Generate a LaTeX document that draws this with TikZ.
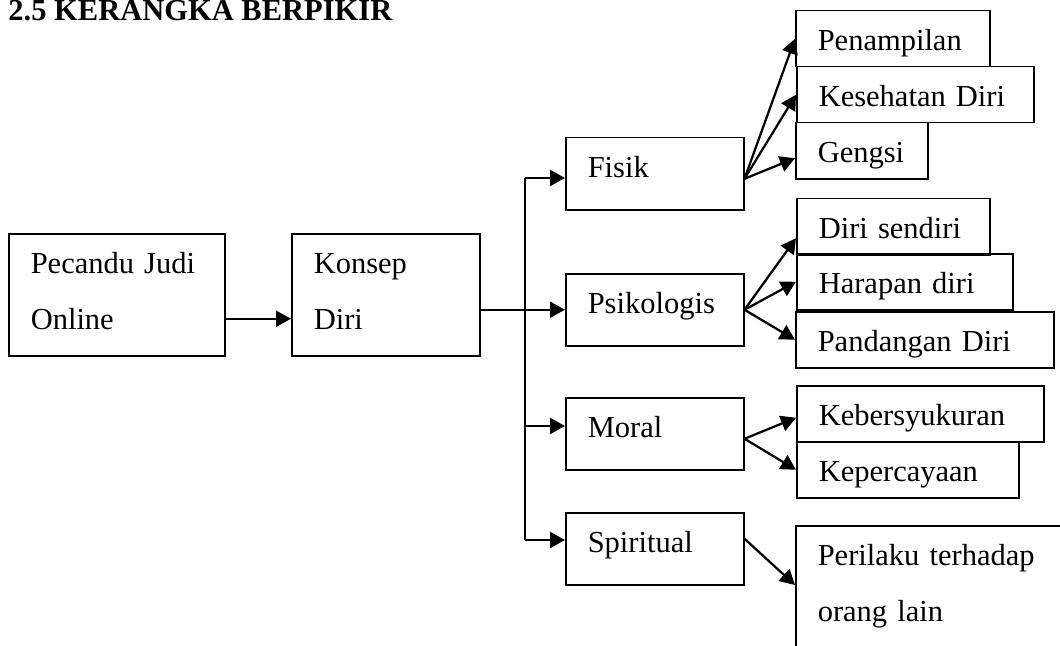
\documentclass[tikz,border=0pt]{standalone}
\usepackage{fontspec}
\setmainfont{Liberation Serif}
\usetikzlibrary{arrows.meta}

\begin{document}
\begin{tikzpicture}[x=0.4pt, y=-0.4pt,
    font=\fontsize{12.2}{22.4}\selectfont,
    kotak/.style={draw, line width=0.6pt, anchor=north west, align=left,
        inner xsep=8.8pt, inner ysep=4pt, text height=12pt},
    besar/.style={kotak, text depth=28.8pt},
    sedang/.style={kotak, text width=53.6pt, text depth=8.8pt},
    kecil/.style={kotak, text depth=2.4pt},
    garis/.style={line width=0.9pt},
    panah/.style={garis, -{Triangle[length=6pt,width=6.4pt]}}
]

    \useasboundingbox (0,0) rectangle (1060,646);

    % judul
    \node[anchor=base west, inner sep=0pt, font=\fontsize{12.2}{14}\selectfont\bfseries]
        (judul) at (8,21) {2.5 KERANGKA BERPIKIR};

    % kotak kiri
    \node[besar, text width=68.8pt] (pecandu) at (8,233)
        {\makebox[\linewidth][s]{Pecandu Judi}\\Online};
    \node[besar, text width=57.6pt] (konsep) at (291,233) {Konsep\\Diri};

    % aspek konsep diri
    \node[sedang] (fisik) at (565,137) {Fisik};
    \node[sedang] (psikologis) at (565,273) {Psikologis};
    \node[sedang] (moral) at (565,397) {Moral};
    \node[sedang] (spiritual) at (565,512) {Spiritual};

    % kotak kanan
    \node[kecil, text width=60pt] (penampilan) at (795,10) {Penampilan};
    \node[kecil, text width=77.2pt] (kesehatan) at (796,66) {Kesehatan Diri};
    \node[kecil, text width=35.2pt] (gengsi) at (795,122) {Gengsi};

    \node[kecil, text width=59.6pt] (sendiri) at (796,198) {Diri sendiri};
    \node[kecil, text width=68.8pt] (harapan) at (796,253) {Harapan diri};
    \node[kecil, text width=85.6pt] (pandangan) at (795,311) {Pandangan Diri};

    \node[kecil, text width=81.2pt] (syukur) at (796,385) {Kebersyukuran};
    \node[kecil, text width=71.2pt] (percaya) at (796,441) {Kepercayaan};

    \node[besar, text width=95.2pt, text depth=48pt] (perilaku) at (795,525)
        {\makebox[\linewidth][s]{Perilaku terhadap}\\orang lain};

    % panah kiri
    \draw[panah] ([yshift=-9.6pt]pecandu.east) -- ([yshift=-9.6pt]konsep.west);
    \draw[panah] (psikologis.west -| konsep.east) -- (psikologis.west);

    % garis cabang
    \coordinate (bf) at (525,178);
    \coordinate (bm) at (525,426);
    \coordinate (bs) at (525,540);

    \draw[garis] (bf) -- (bs);
    \draw[panah] (bf) -- (bf -| fisik.west);
    \draw[panah] (bm) -- (bm -| moral.west);
    \draw[panah] (bs) -- (bs -| spiritual.west);

    % panah kanan
    \draw[panah] ([yshift=-2pt]fisik.east) -- (penampilan.west);
    \draw[panah] ([yshift=-2pt]fisik.east) -- (kesehatan.west);
    \draw[panah] ([yshift=-2pt]fisik.east) -- ([yshift=-3pt]gengsi.west);

    \draw[panah] (psikologis.east) -- ([yshift=-4.6pt]sendiri.west);
    \draw[panah] (psikologis.east) -- (harapan.west);
    \draw[panah] (psikologis.east) -- (pandangan.west);

    \draw[panah] ([yshift=-2pt]moral.east) -- ([yshift=-1.6pt]syukur.west);
    \draw[panah] ([yshift=-2pt]moral.east) -- (percaya.west);

    \draw[panah] ([yshift=4pt]spiritual.east) -- ([yshift=-24pt]perilaku.north west);

\end{tikzpicture}
\end{document}
